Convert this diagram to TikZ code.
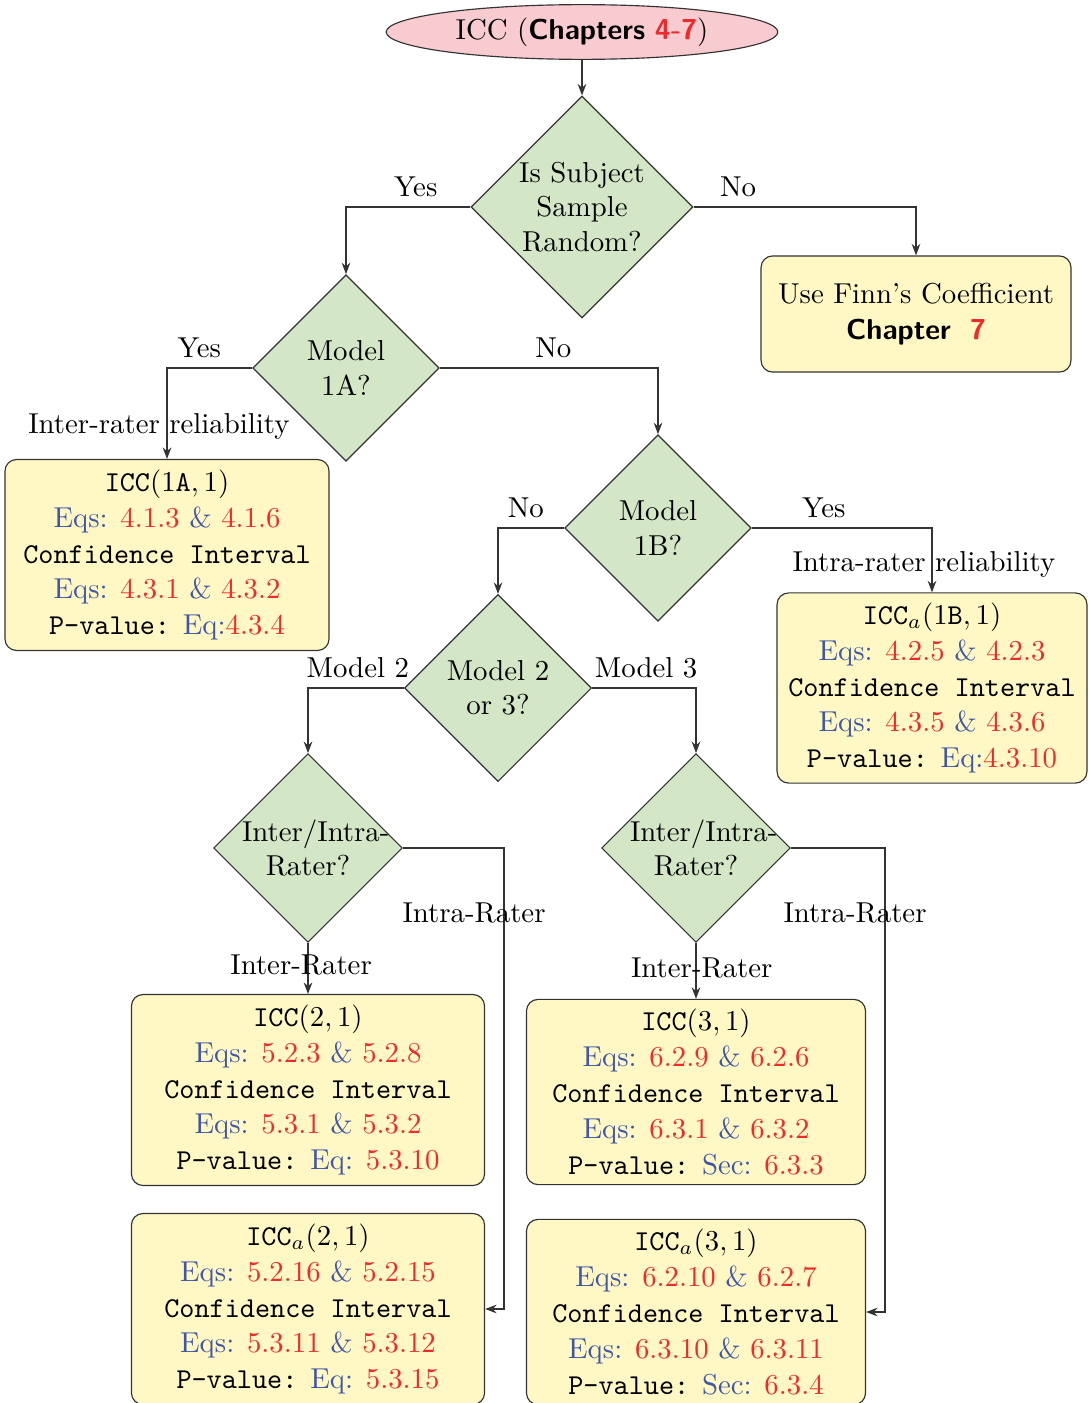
\documentclass[tikz,border=0pt]{standalone}
\usepackage{amsmath}
\usetikzlibrary{shapes.geometric, arrows.meta}
\definecolor{eqblue}{HTML}{4056A8}
\definecolor{eqred}{HTML}{EE2A2A}
\definecolor{startpink}{HTML}{F8CBD0}
\definecolor{decgreen}{HTML}{D3E6C6}
\definecolor{boxyellow}{HTML}{FFF8C4}
\newcommand{\eqpair}[2]{\textcolor{eqblue}{Eqs:} \textcolor{eqred}{#1} \textcolor{eqblue}{\&} \textcolor{eqred}{#2}}
\newcommand{\pval}[2]{\texttt{P-value:} \textcolor{eqblue}{#1}\textcolor{eqred}{#2}}
\newcommand{\cint}{\texttt{Confidence Interval}}
\newcommand{\sfb}[1]{\textsf{\bfseries #1}}
\tikzset{
	startnode/.style={ellipse, draw=black!80, fill=startpink, minimum width=136pt, minimum height=19pt, inner sep=0pt},
	decision/.style={diamond, aspect=1, draw=black!80, fill=decgreen, text width=45.8pt, align=center, inner sep=0pt},
	result/.style={rectangle, rounded corners=4pt, draw=black!80, fill=boxyellow, align=center, font=\linespread{1.04}\selectfont},
	arr/.style={draw=black!80, -{Stealth[length=4pt, width=3pt]}}
}

\begin{document}
\begin{tikzpicture}[x=0.3472pt, y=-0.3472pt]
	\useasboundingbox (0,0) rectangle (1089,1403);
	%start and first question
	\node[startnode] (start) at (582,32) {ICC (\sfb{Chapters} \textcolor{eqred}{\sfb{4-7}})};
	\node[decision] (random) at (582,207) {\mbox{Is Subject}\\ Sample\\ Random?};
	\node[result, minimum width=107.6pt, minimum height=40.3pt] (finn) at (916,314) {Use Finn's Coefficient\\ \sfb{Chapter} ~\textcolor{eqred}{\sfb{7}}};
	
	%model questions
	\node[decision] (m1a) at (346,368) {Model\\ 1A?};
	\node[decision] (m1b) at (658,528) {Model\\ 1B?};
	\node[decision] (m23) at (498,688) {Model 2\\ or 3?};
	\node[decision] (rater2) at (308,848) {\mbox{Inter/Intra-}\\Rater?};
	\node[decision] (rater3) at (696,848) {\mbox{Inter/Intra-}\\Rater?};
	
	%results
	\node[result, minimum width=112.5pt, minimum height=66.3pt] (icc1a) at (167,555) {$\texttt{ICC}(1\texttt{A},1)$\\ \eqpair{4.1.3}{4.1.6}\\ \cint\\ \eqpair{4.3.1}{4.3.2}\\ \pval{Eq:}{4.3.4}};
	\node[result, minimum width=107.6pt, minimum height=66pt] (icc1b) at (932,688) {$\texttt{ICC}_a(1\texttt{B},1)$\\ \eqpair{4.2.5}{4.2.3}\\ \cint\\ \eqpair{4.3.5}{4.3.6}\\ \pval{Eq:}{4.3.10}};
	\node[result, minimum width=122.6pt, minimum height=66.3pt] (icc21) at (308,1090) {$\texttt{ICC}(2,1)$\\ \eqpair{5.2.3}{5.2.8}\\ \cint\\ \eqpair{5.3.1}{5.3.2}\\ \pval{Eq: }{5.3.10}};
	\node[result, minimum width=122.6pt, minimum height=66.3pt] (icca21) at (308,1309) {$\texttt{ICC}_a(2,1)$\\ \eqpair{5.2.16}{5.2.15}\\ \cint\\ \eqpair{5.3.11}{5.3.12}\\ \pval{Eq: }{5.3.15}};
	\node[result, minimum width=117.7pt, minimum height=64.2pt] (icc31) at (696,1092) {$\texttt{ICC}(3,1)$\\ \eqpair{6.2.9}{6.2.6}\\ \cint\\ \eqpair{6.3.1}{6.3.2}\\ \pval{Sec: }{6.3.3}};
	\node[result, minimum width=117.7pt, minimum height=64.2pt] (icca31) at (696,1312) {$\texttt{ICC}_a(3,1)$\\ \eqpair{6.2.10}{6.2.7}\\ \cint\\ \eqpair{6.3.10}{6.3.11}\\ \pval{Sec: }{6.3.4}};
	
	%arrows
	\draw[arr] (start) -- (random);
	\draw[arr] (random.west) -| node[above, pos=0.22] {Yes} (m1a.north);
	\draw[arr] (random.east) -| node[above, pos=0.1] {No} (finn.north);
	\draw[arr] (m1a.west) -| node[above, pos=0.31] {Yes} node[pos=0.82, xshift=-2.8pt] {Inter-rater reliability} (icc1a.north);
	\draw[arr] (m1a.east) -| node[above, pos=0.26] {No} (m1b.north);
	\draw[arr] (m1b.east) -| node[above, pos=0.2] {Yes} node[pos=0.785, xshift=-2.8pt] {Intra-rater reliability} (icc1b.north);
	\draw[arr] (m1b.west) -| node[above, pos=0.29] {No} (m23.north);
	\draw[arr] (m23.west) -| node[above, pos=0.24] {Model 2} (rater2.north);
	\draw[arr] (m23.east) -| node[above, pos=0.26] {Model 3} (rater3.north);
	\draw[arr] (rater2.south) -- node[pos=0.44, xshift=-2.4pt] {Inter-Rater} (icc21.north);
	\draw[arr] (rater3.south) -- node[pos=0.45, xshift=2pt] {Inter-Rater} (icc31.north);
	
	%intra-rater detours
	\coordinate (turn2) at (504,848);
	\coordinate (turn3) at (885,848);
	\draw[arr] (rater2.east) -- (turn2) -- node[pos=0.14, xshift=-10.4pt] {Intra-Rater} (turn2 |- icca21.east) -- (icca21.east);
	\draw[arr] (rater3.east) -- (turn3) -- node[pos=0.14, xshift=-10.4pt] {Intra-Rater} (turn3 |- icca31.east) -- (icca31.east);
\end{tikzpicture}
\end{document}
